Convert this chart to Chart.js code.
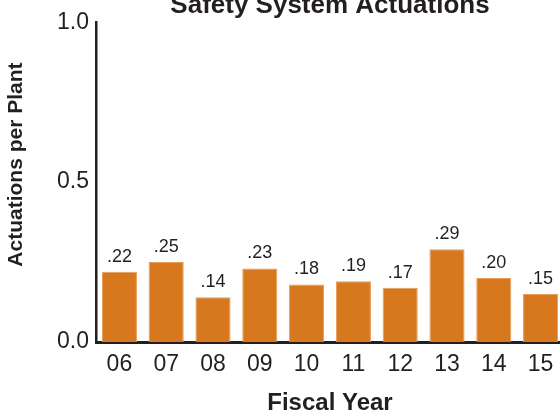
<!DOCTYPE html>
<html lang="en">
<head>
<meta charset="UTF-8">
<title>Safety System Actuations</title>
<script src="https://cdn.jsdelivr.net/npm/chart.js"></script>
<style>
  html, body { margin: 0; padding: 0; background: #fff; overflow: hidden; }
  #wrap { width: 564px; height: 414px; }
</style>
</head>
<body>
<div id="wrap"><canvas id="grafico"></canvas></div>
<script>
const years = ['06', '07', '08', '09', '10', '11', '12', '13', '14', '15'];
const actuations = [0.22, 0.25, 0.14, 0.23, 0.18, 0.19, 0.17, 0.29, 0.20, 0.15];
const yTicks = [0.0, 0.5, 1.0];

const ink = '#231f20';
const naranja = '#d8781e';
const fuente = '"Liberation Sans", Arial, sans-serif';

// etiqueta encima de cada barra: .22, .25 ...
const etiquetas = {
    id: 'etiquetas',
    afterDatasetsDraw(chart) {
        const ctx = chart.ctx;
        const meta = chart.getDatasetMeta(0);
        ctx.save();
        ctx.font = '18px ' + fuente;
        ctx.fillStyle = ink;
        ctx.textAlign = 'center';
        ctx.textBaseline = 'bottom';
        meta.data.forEach((bar, i) => {
            const v = actuations[i];
            const txt = '.' + String(Math.round(v * 100)).padStart(2, '0');
            ctx.fillText(txt, bar.x, bar.y - 6);
        });
        ctx.restore();
    }
};

new Chart(document.getElementById('grafico'), {
    type: 'bar',
    data: {
        labels: years,
        datasets: [{
            data: actuations,
            backgroundColor: naranja,
            borderColor: '#e59a55',
            borderWidth: { top: 1, left: 1, right: 1, bottom: 0 },
            borderSkipped: 'bottom',
            barPercentage: 0.75,
            categoryPercentage: 1.0
        }]
    },
    options: {
        responsive: true,
        maintainAspectRatio: false,
        animation: false,
        layout: { padding: 0 },
        plugins: {
            legend: { display: false },
            tooltip: { enabled: false },
            title: {
                display: true,
                fullSize: false,
                text: 'Safety System Actuations',
                color: ink,
                font: { family: fuente, size: 26, weight: 'bold' },
                padding: { top: -10, bottom: 1 }
            }
        },
        scales: {
            x: {
                grid: { display: false, drawTicks: false },
                border: { display: true, color: ink, width: 3 },
                ticks: {
                    color: ink,
                    font: { family: fuente, size: 23 },
                    padding: 9
                },
                title: {
                    display: true,
                    text: 'Fiscal Year',
                    color: ink,
                    font: { family: fuente, size: 24, weight: 'bold' },
                    padding: { top: 0, bottom: -4 }
                },
                afterFit(scale) { scale.height = 72; }
            },
            y: {
                min: 0,
                max: 1,
                grid: { display: false, drawTicks: false },
                border: { display: true, color: ink, width: 2.5 },
                afterBuildTicks(scale) {
                    scale.ticks = yTicks.map(v => ({ value: v }));
                },
                ticks: {
                    color: ink,
                    font: { family: fuente, size: 23 },
                    padding: 7,
                    callback: v => Number(v).toFixed(1)
                },
                title: {
                    display: true,
                    // los espacios iniciales suben el texto girado
                    text: '      Actuations per Plant',
                    color: ink,
                    font: { family: fuente, size: 21, weight: 'bold' },
                    padding: { top: 4, bottom: 0 }
                },
                afterFit(scale) { scale.width = 96; }
            }
        }
    },
    plugins: [etiquetas]
});
</script>
</body>
</html>
